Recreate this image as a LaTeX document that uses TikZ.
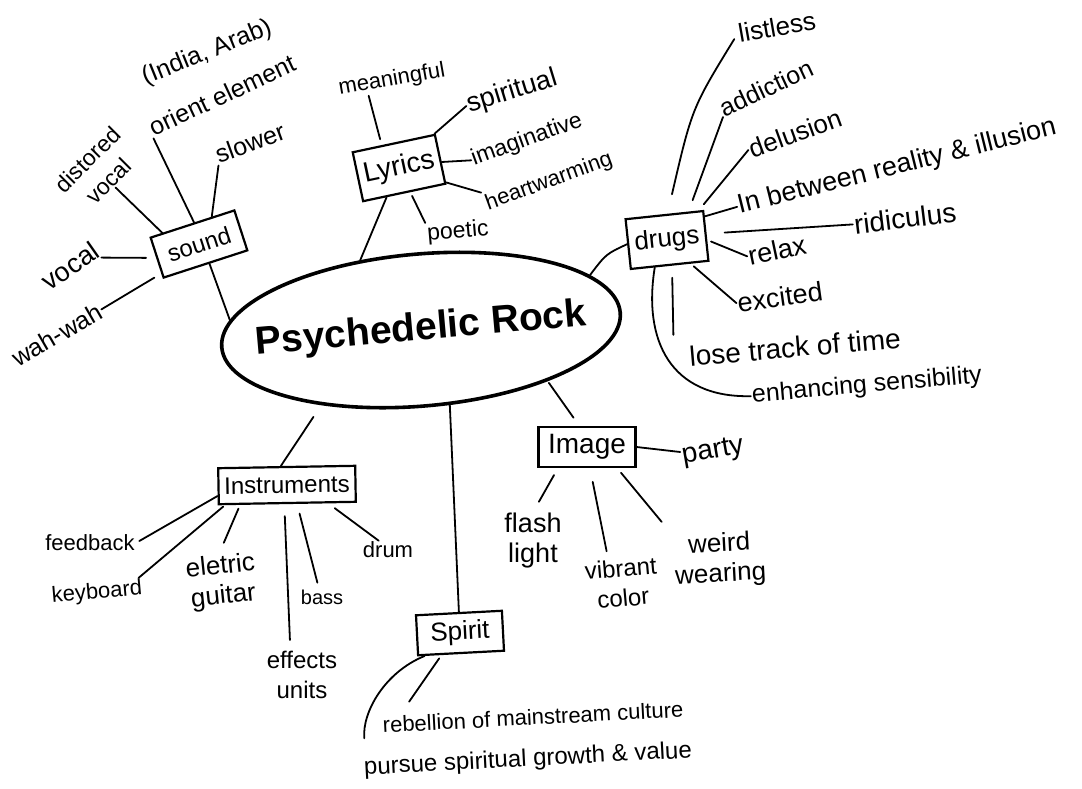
\documentclass[tikz,border=0pt]{standalone}
\usepackage{fontspec}
\setmainfont{Liberation Sans}
\usetikzlibrary{shapes.geometric,calc}
\begin{document}
\begin{tikzpicture}[x=1pt,y=-1pt,
  lbl/.style={inner sep=1pt, align=center, font=\fontsize{#1}{30}\selectfont},
  lbl/.default=24,
  bx/.style={draw, line width=2.2pt, inner sep=0pt},
  ln/.style={line width=1.8pt, line cap=round},
]
\fill[white] (0,0) rectangle (1082,788);
\useasboundingbox (0,0) rectangle (1082,788);

% centre
\node[draw, ellipse, line width=3.6pt, minimum width=400pt, minimum height=152pt, inner sep=0pt, rotate=5,
      font=\fontsize{39}{41}\selectfont\bfseries] (main) at (421,330) {\makebox[0pt]{Psychedelic Rock}};

% sound
\node[bx, minimum width=88pt, minimum height=42pt, rotate=18, font=\fontsize{24}{26}\selectfont] (sound) at (199,244) {sound};
\node[lbl=23, rotate=45] (dv) at (98,170) {distored\\vocal};
\node[lbl=25, rotate=22] (ia) at (207,53) {(India, Arab)};
\node[lbl=25, rotate=25] (oe) at (222,95) {orient element};
\node[lbl=25, rotate=20] (sl) at (250,143) {slower};
\node[lbl=27, rotate=35] (vo) at (70,266) {vocal};
\node[lbl=25, rotate=30] (ww) at (57,335) {wah-wah};
\draw[ln] (sound.145) -- (dv.south);
\draw[ln] (sound.85) -- (oe.south west);
\draw[ln] (sound.47) -- (sl.south west);
\draw[ln, shorten <=10pt] (sound.west) -- (vo.-20);
\draw[ln, shorten <=8pt] (sound.200) -- (ww.east);
\draw[ln] (sound.-80) -- (main.172);

% lyrics
\node[bx, minimum width=84pt, minimum height=50pt, rotate=12, font=\fontsize{28}{30}\selectfont] (lyr) at (399,168) {Lyrics};
\node[lbl=22, rotate=10] (mf) at (392,80) {meaningful};
\node[lbl=27, rotate=17] (sp) at (512,92) {spiritual};
\node[lbl=23, rotate=20] (im) at (527,140) {imaginative};
\node[lbl=22, rotate=20] (hw) at (549,182) {heartwarming};
\node[lbl=23, rotate=5] (po) at (458,232) {poetic};
\draw[ln, shorten <=6pt] (lyr.115) -- (mf.204);
\draw[ln] (lyr.32) -- (sp.west);
\draw[ln] (lyr.-4) -- (im.west);
\draw[ln, shorten >=3pt] (lyr.-29) -- (hw.170);
\draw[ln, shorten <=4pt] (lyr.-77) -- (po.north west);
\draw[ln] (lyr.-125) -- (main.126);

% drugs
\node[bx, minimum width=78pt, minimum height=50pt, rotate=6, font=\fontsize{26}{28}\selectfont] (drugs) at (667,240) {drugs};
\node[lbl=26, rotate=10] (ls) at (777,27) {listless};
\node[lbl=25, rotate=25] (ad) at (766,88) {addiction};
\node[lbl=26, rotate=20] (de) at (795,133) {delusion};
\node[lbl=27, rotate=14] (ib) at (897,167) {In between reality \& illusion};
\node[lbl=28, rotate=7] (ri) at (905,218) {ridiculus};
\node[lbl=27, rotate=12] (re) at (777,250) {relax};
\node[lbl=27, rotate=8] (ex) at (780,297) {excited};
\node[lbl=28, rotate=5] (lt) at (795,347) {lose track of time};
\node[lbl=25, rotate=5] (es) at (867,386) {enhancing sensibility};
\draw[ln] (main.13) .. controls (606,254) .. (drugs.west);
\draw[ln, shorten <=20pt, shorten >=6pt] (drugs.83) .. controls (692,108) .. (ls.west);
\draw[ln, shorten <=12pt] (drugs.47) -- (ad.189);
\draw[ln, shorten <=8pt] (drugs.37) -- (de.west);
\draw[ln] (drugs.26) -- (ib.west);
\draw[ln, shorten <=18pt] (drugs.3) -- (ri.west);
\draw[ln, shorten <=4pt] (drugs.-6) -- (re.west);
\draw[ln, shorten <=4pt] (drugs.-51) -- (ex.west);
\draw[ln, shorten <=12pt] (drugs.-85) -- ($(lt.north west)+(-14,-10)$);
\draw[ln] (drugs.-120) .. controls (643,340) and (670,398) .. (es.west);

% image
\node[bx, minimum width=97pt, minimum height=40pt, font=\fontsize{28}{30}\selectfont] (img) at (587,447) {Image};
\node[lbl=28, rotate=10] (pa) at (713,452) {party};
\node[lbl=27] (fl) at (533,541) {flash\\light};
\node[lbl=24, rotate=5] (vc) at (622,583) {vibrant\\color};
\node[lbl=26, rotate=3] (we) at (720,560) {weird\\wearing};
\draw[ln, shorten <=2pt, shorten >=10pt] (main.-27) -- (img.110);
\draw[ln] (img.east) -- (pa.170);
\draw[ln, shorten <=8pt, shorten >=12pt] (img.-144) -- (fl.north);
\draw[ln, shorten <=14pt, shorten >=8pt] (img.-82) -- (vc.115);
\draw[ln, shorten <=6pt, shorten >=16pt] (img.-35) -- (we.north west);

% spirit
\node[bx, minimum width=86pt, minimum height=40pt, rotate=3, font=\fontsize{26}{28}\selectfont] (spirit) at (460,633) {Spirit};
\node[lbl=22, rotate=3] (rb) at (533,717) {rebellion of mainstream culture};
\node[lbl=24, rotate=3] (pu) at (528,760) {pursue spiritual growth \& value};
\draw[ln] (main.-74) -- (spirit.north);
\draw[ln, shorten <=4pt] (spirit.-133) -- ($(rb.north west)+(28,-14)$);
\draw[ln] (spirit.-150) .. controls (385,672) and (362,712) .. ($(pu.north west)+(2,-18)$);

% instruments
\node[bx, minimum width=137pt, minimum height=36pt, rotate=1, font=\fontsize{24}{26}\selectfont] (inst) at (287,485) {Instruments};
\node[lbl=22] (fb) at (90,543) {feedback};
\node[lbl=22, rotate=5] (kb) at (97,593) {keyboard};
\node[lbl=26, rotate=6] (eg) at (222,582) {eletric\\guitar};
\node[lbl=24] (eu) at (302,675) {effects\\units};
\node[lbl=20] (ba) at (322,597) {bass};
\node[lbl=22] (dr) at (388,550) {drum};
\draw[ln, shorten <=14pt] (main.212) -- (inst.107);
\draw[ln, shorten >=4pt] (inst.188) -- (fb.east);
\draw[ln, shorten <=2pt] (inst.197) -- (kb.15);
\draw[ln, shorten <=4pt, shorten >=12pt] (inst.202) -- (eg.north);
\draw[ln, shorten <=12pt, shorten >=10pt] (inst.-99) -- (eu.115);
\draw[ln, shorten <=10pt, shorten >=6pt] (inst.-63) -- (ba.110);
\draw[ln, shorten <=8pt] (inst.-25) -- (dr.135);
\end{tikzpicture}
\end{document}
